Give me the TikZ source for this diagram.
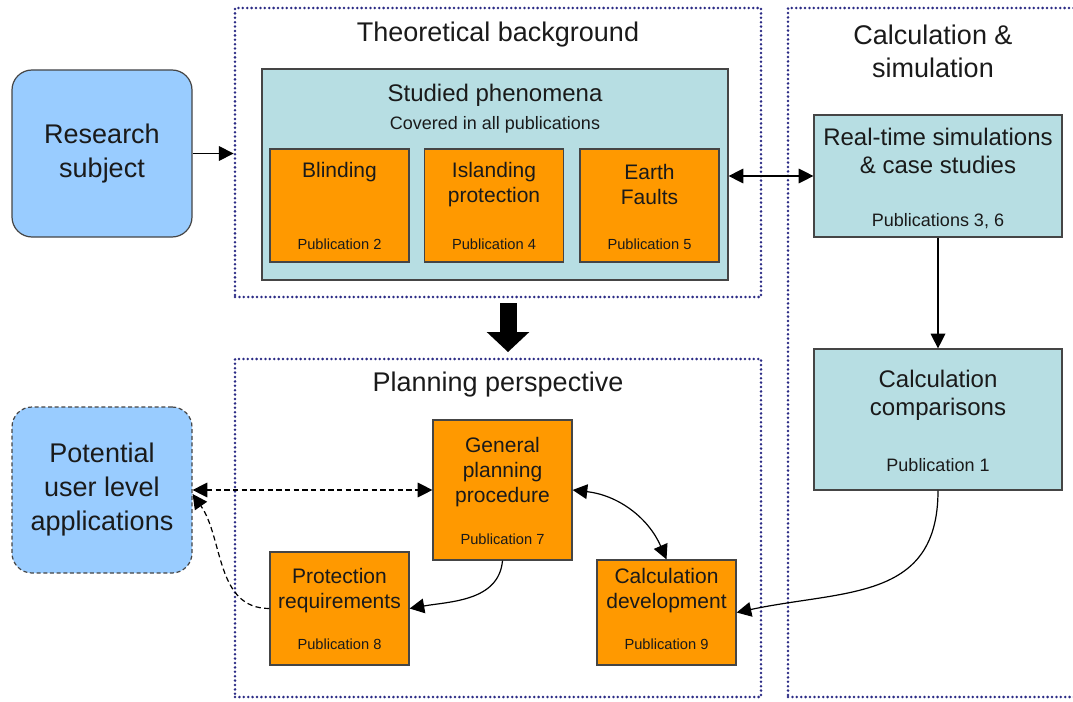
\documentclass[tikz,border=0pt]{standalone}
\usepackage{fontspec}
\setmainfont{Liberation Sans}
\usetikzlibrary{arrows.meta,positioning}
\definecolor{dotblue}{HTML}{2B2B85}
\definecolor{skyfill}{HTML}{99CCFF}
\definecolor{tealfill}{HTML}{B7DEE3}
\definecolor{orangefill}{HTML}{FF9900}
\definecolor{edgegray}{HTML}{454545}
\definecolor{inkgray}{HTML}{1A1A1A}
\tikzset{
  region/.style={
    draw = dotblue,
    line width = 2.1pt,
    line cap = round,
    dash pattern = on 0pt off 3.3pt,
    inner sep = 0pt
  },
  subject/.style={
    draw = edgegray,
    fill = skyfill,
    line width = 0.9pt,
    rounded corners = 15pt,
    minimum width = 135pt,
    align = center,
    text = inkgray,
    font = \fontsize{20.25}{25.5}\selectfont
  },
  study/.style={
    draw = edgegray,
    fill = tealfill,
    line width = 0.9pt,
    inner sep = 0pt
  },
  effect/.style={
    draw = edgegray,
    fill = orangefill,
    line width = 0.9pt,
    inner sep = 0pt,
    minimum width = 104.25pt
  },
}
\tikzset{
  heading/.style={
    align = center,
    inner sep = 0pt,
    text = inkgray,
    font = \fontsize{20.25}{24.75}\selectfont
  },
  subhead/.style={
    align = center,
    inner sep = 0pt,
    text = inkgray,
    font = \fontsize{18}{21}\selectfont
  },
  note/.style={
    inner sep = 0pt,
    text = inkgray,
    font = \fontsize{13.5}{16}\selectfont
  },
  etitle/.style={
    align = center,
    inner sep = 0pt,
    text = inkgray,
    font = \fontsize{15.75}{18.75}\selectfont
  },
  pub/.style={
    inner sep = 0pt,
    text = inkgray,
    font = \fontsize{11}{13}\selectfont
  },
  arr/.style={
    line width = 0.9pt,
    >={Triangle[length=11pt,width=11pt]}
  },
  dashline/.style={
    dash pattern = on 4pt off 2.5pt
  },
  bigarrow/.style={
    line width = 12.75pt,
    -{Triangle[length=15pt,width=32pt,line width=0pt]}
  }
}

\begin{document}
\begin{tikzpicture}[x=0.75pt, y=-0.75pt]
  \useasboundingbox (0,0) rectangle (1073,702);
  % dotted regions
  \node[region, minimum width=394.5pt, minimum height=216.75pt] (theo) at (498,152.5) {};
  \node[region, minimum width=394.5pt, minimum height=253.5pt] (plan) at (498,528) {};
  \node[region, minimum width=226.5pt, minimum height=516.75pt] (calc) at (939,352.5) {};
  \node[heading] (theot) at (498,35) {Theoretical background};
  \node[heading] (plant) at (498,385) {Planning perspective};
  \node[heading] (calct) at (933,51.5) {Calculation \&\\simulation};

  \node[subject, minimum height=125.25pt] (research) at (102,153.5) {Research\\subject};
  \node[subject, minimum height=124.5pt, dash pattern=on 3pt off 2pt] (potential) at (102,490) {Potential\\user level\\applications};

  \node[study, minimum width=349.5pt, minimum height=158.25pt] (studied) at (495,174.5) {};
  \node[subhead] (studiedt) at (495,95) {Studied phenomena};
  \node[note] (studiedn) at (495,125) {Covered in all publications};

  \node[effect, minimum height=84.75pt] (blind) at (339.5,205.5) {};
  \node[etitle] (blindt) at (339.5,172) {Blinding};
  \node[pub] (blindp) at (339.5,244) {Publication 2};
  \node[effect, minimum height=84.75pt] (island) at (494,205.5) {};
  \node[etitle] (islandt) at (494,184.5) {Islanding\\protection};
  \node[pub] (islandp) at (494,244) {Publication 4};
  \node[effect, minimum height=84.75pt] (earth) at (649.5,205.5) {};
  \node[etitle] (eartht) at (649.5,184.5) {Earth\\Faults};
  \node[pub] (earthp) at (649.5,244) {Publication 5};

  \node[study, minimum width=186pt, minimum height=91.5pt] (realtime) at (938,176) {};
  \node[subhead] (realtimet) at (938,151) {Real-time simulations\\\& case studies};
  \node[note] (realtimep) at (938,221) {Publications 3, 6};
  \node[study, minimum width=186pt, minimum height=105.75pt] (comp) at (938,419.5) {};
  \node[subhead] (compt) at (938,395.5) {Calculation\\comparisons};
  \node[note] (compp) at (938,465) {Publication 1};

  \node[effect, minimum height=105pt] (general) at (502.5,490) {};
  \node[etitle] (generalt) at (502.5,472) {General\\planning\\procedure};
  \node[pub] (generalp) at (502.5,539) {Publication 7};
  \node[effect, minimum height=84.75pt] (protect) at (339.5,608.5) {};
  \node[etitle] (protectt) at (339.5,591) {Protection\\requirements};
  \node[pub] (protectp) at (339.5,644) {Publication 8};
  \node[effect, minimum height=78.75pt] (calcdev) at (666.5,612.5) {};
  \node[etitle] (calcdevt) at (666.5,591) {Calculation\\development};
  \node[pub] (calcdevp) at (666.5,644) {Publication 9};

  \coordinate (bigtop) at (508,303);
  \coordinate (bigtip) at (508,352);

  % connectors
  \draw[arr, ->] (research.east) -- (theo.west |- research.east);
  \draw[arr, <->] (studied.east |- realtime.west) -- (realtime.west);
  \draw[arr, ->] (realtime) -- (comp);
  \draw[bigarrow] (bigtop) -- (bigtip);
  \draw[arr, dashline, <->] (potential.east) -- (general.west);
  \draw[arr, dashline, ->] (protect.west) to[out=180, in=-55] ([yshift=-3pt]potential.east);
  \draw[arr, ->] (general.south) to[out=-95, in=10] (protect.east);
  \draw[arr, <->] (general.east) to[bend left=30] (calcdev.north);
  \draw[arr, ->] (comp.south) to[out=-90, in=12, looseness=1.2] (calcdev.east);
\end{tikzpicture}
\end{document}
